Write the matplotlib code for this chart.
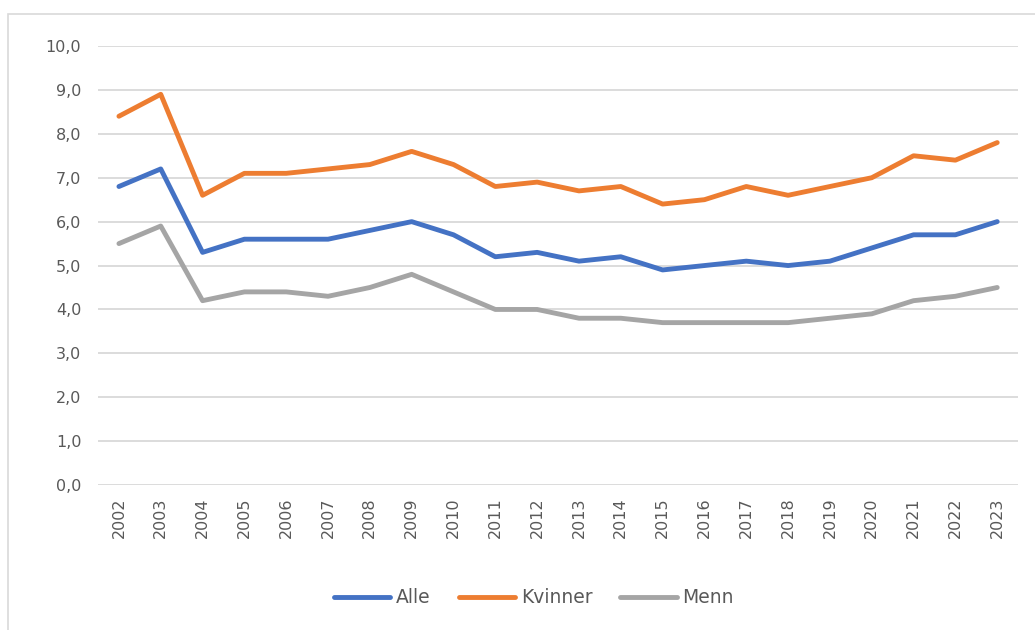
import matplotlib.pyplot as plt
from matplotlib.patches import Rectangle
import numpy as np

years = [str(y) for y in range(2002, 2024)]
alle = [6.8, 7.2, 5.3, 5.6, 5.6, 5.6, 5.8, 6.0, 5.7, 5.2, 5.3,
        5.1, 5.2, 4.9, 5.0, 5.1, 5.0, 5.1, 5.4, 5.7, 5.7, 6.0]
kvinner = [8.4, 8.9, 6.6, 7.1, 7.1, 7.2, 7.3, 7.6, 7.3, 6.8, 6.9,
           6.7, 6.8, 6.4, 6.5, 6.8, 6.6, 6.8, 7.0, 7.5, 7.4, 7.8]
menn = [5.5, 5.9, 4.2, 4.4, 4.4, 4.3, 4.5, 4.8, 4.4, 4.0, 4.0,
        3.8, 3.8, 3.7, 3.7, 3.7, 3.7, 3.8, 3.9, 4.2, 4.3, 4.5]
yticks = np.arange(0, 11, 1)

fig = plt.figure(figsize=(10.35, 6.3), dpi=100)
ax = fig.add_axes([0.0947, 0.230, 0.889, 0.697])

# ramme rundt hele figuren
fig.patches.append(Rectangle((0.008, -0.01), 1.2, 0.988, transform=fig.transFigure,
                             fill=False, edgecolor='#d9d9d9', linewidth=1.2))

x = np.arange(len(years))
ax.plot(x, alle, color='#4472C4', lw=3.5, label='Alle', solid_capstyle='round')
ax.plot(x, kvinner, color='#ED7D31', lw=3.5, label='Kvinner', solid_capstyle='round')
ax.plot(x, menn, color='#A5A5A5', lw=3.5, label='Menn', solid_capstyle='round')

ax.set_xlim(-0.5, len(years) - 0.5)
ax.set_ylim(0, 10)
ax.set_yticks(yticks)
ax.set_yticklabels([f'{v:.1f}'.replace('.', ',') for v in yticks])
ax.set_xticks(x)
ax.set_xticklabels(years, rotation=90)
ax.tick_params(axis='both', length=0, labelsize=11.5, colors='#595959')
ax.tick_params(axis='y', pad=12)
ax.tick_params(axis='x', pad=9)
ax.grid(axis='y', color='#d9d9d9', lw=1.3)
ax.set_axisbelow(True)
for s in ax.spines.values():
    s.set_visible(False)

leg = fig.legend(loc='center', bbox_to_anchor=(0.516, 0.051), ncol=3, frameon=False,
                 fontsize=13.5, handlelength=3.0, handletextpad=0.3, columnspacing=1.5)
for t in leg.get_texts():
    t.set_color('#595959')

fig.savefig('out.png', dpi=100)
